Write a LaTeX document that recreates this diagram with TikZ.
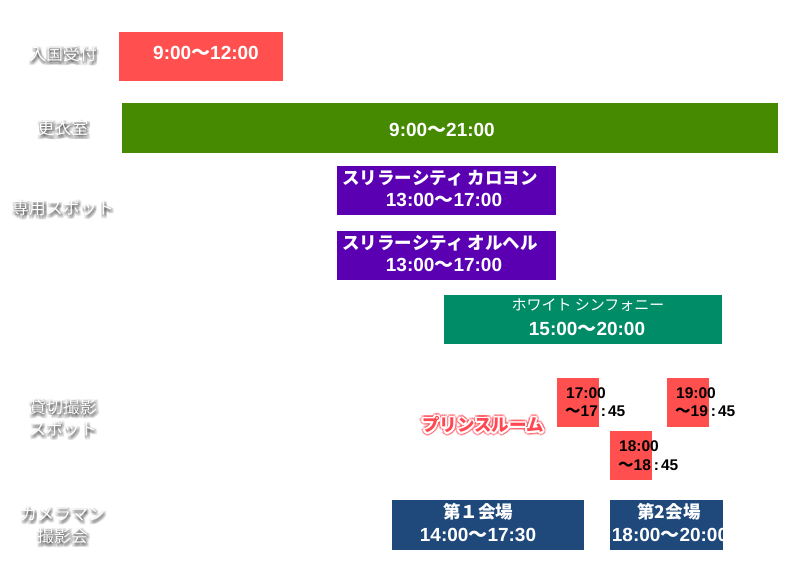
\documentclass[tikz,border=0pt]{standalone}
\usepackage{fontspec}
\setmainfont{Liberation Sans}
\newfontfamily\jp{Noto Sans CJK JP}
\definecolor{cred}{RGB}{255,79,79}
\definecolor{cgreen}{RGB}{69,138,0}
\definecolor{cpurple}{RGB}{90,0,178}
\definecolor{cteal}{RGB}{0,140,102}
\definecolor{cnavy}{RGB}{31,73,123}
\definecolor{cprince}{RGB}{255,72,82}
\tikzset{
  bar/.style={draw=none,inner sep=0pt,outer sep=0pt,anchor=north west},
  num/.style={inner sep=0pt,text=white,font=\bfseries\fontsize{19}{22}\selectfont,text height=0.72em,text depth=0pt},
  jpt/.style={inner sep=0pt,text=white,font=\jp\bfseries\fontsize{17.5}{22}\selectfont,text height=0.83em,text depth=0.07em},
  small/.style={inner sep=0pt,text=black,anchor=west,font=\bfseries\fontsize{15.5}{18}\selectfont,text height=0.72em,text depth=0pt},
  lbl/.style={inner sep=0pt,font=\jp\fontsize{17}{20}\selectfont,text height=0.83em,text depth=0.07em},
  prince/.style={inner sep=0pt,font=\jp\bfseries\fontsize{17.5}{20}\selectfont,text height=0.83em,text depth=0.07em},
}
\newcommand\shtext[3]{%
  \foreach \dx in {-1,0,1,2,3}{\foreach \dy in {0,1,2,3,4}{%
    \node[lbl,text=black,opacity=0.05,xshift=\dx pt,yshift=-\dy pt] at (#2) {#3};}}%
  \node[lbl,text=white] (#1) at (#2) {#3};}
\newcommand\wcolon{\hspace{3pt}:\hspace{2pt}}
\begin{document}
\begin{tikzpicture}[x=1pt,y=-1pt]
\useasboundingbox[fill=white] (0,0) rectangle (807,579);

% left labels
\shtext{l1}{63,57}{入国受付}
\shtext{l2}{63,131}{更衣室}
\shtext{l3}{63,211}{専用スポット}
\shtext{l4a}{63,410}{貸切撮影}
\shtext{l4b}{63,432}{スポット}
\shtext{l5a}{62.5,517}{カメラマン}
\shtext{l5b}{62.5,539}{撮影会}

% 入国受付
\node[bar,fill=cred,minimum width=164pt,minimum height=49pt] (b1) at (119,32) {};
\node[num] (t1) at (206,56) {9:00{\jp 〜}12:00};

% 更衣室
\node[bar,fill=cgreen,minimum width=656pt,minimum height=50pt] (b2) at (122,103) {};
\node[num] (t2) at (442,133) {9:00{\jp 〜}21:00};

% purple 1
\node[bar,fill=cpurple,minimum width=219pt,minimum height=49pt] (b3) at (337,166) {};
\node[jpt] (t3a) at (440,181) {スリラーシティ カロヨン};
\node[num] (t3b) at (444,203) {13:00{\jp 〜}17:00};

% purple 2
\node[bar,fill=cpurple,minimum width=219pt,minimum height=49pt] (b4) at (337,231) {};
\node[jpt] (t4a) at (440,246) {スリラーシティ オルヘル};
\node[num] (t4b) at (444,268) {13:00{\jp 〜}17:00};

% teal
\node[bar,fill=cteal,minimum width=278pt,minimum height=49pt] (b5) at (444,295) {};
\node[jpt,font=\jp\fontsize{15}{18}\selectfont] (t5a) at (588,307) {ホワイト シンフォニー};
\node[num] (t5b) at (587,332) {15:00{\jp 〜}20:00};

% small red boxes
\node[bar,fill=cred,minimum width=42pt,minimum height=49pt] (s1) at (557,378) {};
\node[bar,fill=cred,minimum width=42pt,minimum height=49pt] (s2) at (667,378) {};
\node[bar,fill=cred,minimum width=42pt,minimum height=49pt] (s3) at (610,431) {};
\node[small] (s1a) at (566,395) {17:00};
\node[small] (s1b) at (565,413) {{\jp 〜}17\wcolon 45};
\node[small] (s2a) at (676,395) {19:00};
\node[small] (s2b) at (675,413) {{\jp 〜}19\wcolon 45};
\node[small] (s3a) at (619,448) {18:00};
\node[small] (s3b) at (618,467) {{\jp 〜}18\wcolon 45};

% prince room
\foreach \a in {0,30,...,330}{\node[prince,text=cprince,opacity=0.45,shift={(\a:3.4pt)}] at (483,428) {プリンスルーム};}
\foreach \a in {0,30,...,330}{\node[prince,text=white,shift={(\a:1.7pt)}] at (483,428) {プリンスルーム};}
\node[prince,text=cprince] (pr) at (483,428) {プリンスルーム};

% navy
\node[bar,fill=cnavy,minimum width=192pt,minimum height=50pt] (n1) at (392,500) {};
\node[jpt] (n1a) at (478,515) {第１会場};
\node[num] (n1b) at (478,538) {14:00{\jp 〜}17:30};
\node[bar,fill=cnavy,minimum width=113pt,minimum height=50pt] (n2) at (610,500) {};
\node[jpt] (n2a) at (669,515) {第2会場};
\begin{scope}
\clip (610,500) rectangle (723,550);
\node[num] (n2b) at (670,538) {18:00{\jp 〜}20:00};
\end{scope}
\end{tikzpicture}
\end{document}
